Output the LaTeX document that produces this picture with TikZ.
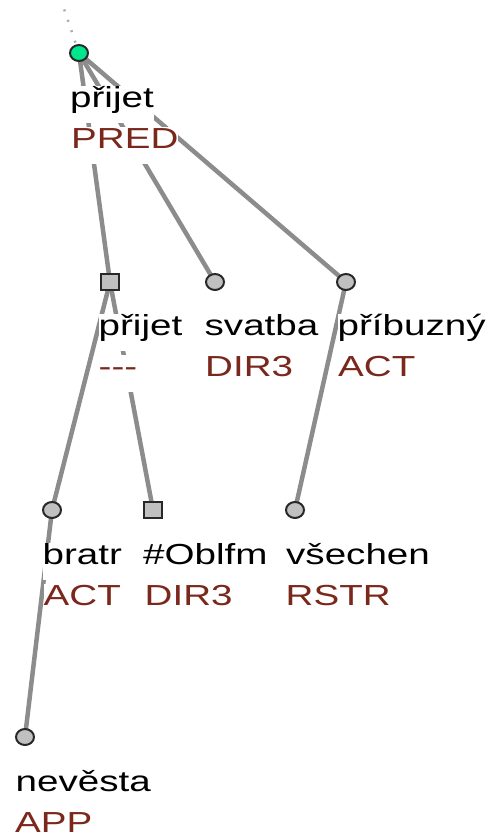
\documentclass[tikz,border=0pt]{standalone}
\usepackage{fontspec}
\setmainfont[FakeStretch=1.33]{Liberation Sans}
\usetikzlibrary{shapes.geometric}
\pgfdeclarelayer{edges}
\pgfdeclarelayer{labels}
\pgfsetlayers{edges,labels,main}
\definecolor{funcol}{RGB}{122,40,28}
\definecolor{edgecol}{RGB}{140,140,140}
\definecolor{nodefill}{RGB}{192,192,192}
\definecolor{rootfill}{RGB}{0,230,140}
\definecolor{nodeline}{RGB}{40,40,40}
\tikzset{
  tnode/.style={ellipse, draw=nodeline, line width=2pt, fill=nodefill, minimum width=18pt, minimum height=16pt, inner sep=0pt},
  snode/.style={rectangle, draw=nodeline, line width=2pt, fill=nodefill, minimum width=18pt, minimum height=16pt, inner sep=0pt},
  rnode/.style={tnode, fill=rootfill},
  lab/.style={anchor=base west, fill=white, inner sep=0pt, text height=21pt, text depth=16pt, font=\fontsize{29}{41}\selectfont},
  lemma/.style={lab, text=black},
  functor/.style={lab, text=funcol},
  edge/.style={draw=edgecol, line width=4.5pt},
  topedge/.style={draw=gray!65, line width=2.5pt, dash pattern=on 2pt off 9pt}
}
\begin{document}
\begin{tikzpicture}[x=1pt,y=-1pt]
\useasboundingbox (0,0) rectangle (490,839);
% tree nodes
\node[rnode] (root) at (79,53) {};
\node[snode] (n1) at (110,282) {};
\node[tnode] (n2) at (215,282) {};
\node[tnode] (n3) at (346,282) {};
\node[tnode] (n4) at (52,510) {};
\node[snode] (n5) at (153,510) {};
\node[tnode] (n6) at (295,510) {};
\node[tnode] (n7) at (25,737) {};
\coordinate (up) at (62,3);
% labels
\begin{pgfonlayer}{labels}
\node[lemma] (l0a) at (70,107) {přijet};
\node[functor] (l0b) at (71,148) {PRED};
\node[lemma] (l1a) at (98.5,335) {přijet};
\node[functor] (l1b) at (98.5,376) {-{}-{}-};
\node[lemma] (l2a) at (204.5,335) {svatba};
\node[functor] (l2b) at (205,376) {DIR3};
\node[lemma] (l3a) at (337.5,335) {příbuzný};
\node[functor] (l3b) at (338,376) {ACT};
\node[lemma] (l4a) at (42.5,564) {bratr};
\node[functor] (l4b) at (43.5,605) {ACT};
\node[lemma] (l5a) at (143,564) {\#Oblfm};
\node[functor] (l5b) at (144.5,605) {DIR3};
\node[lemma] (l6a) at (286,564) {všechen};
\node[functor] (l6b) at (285.5,605) {RSTR};
\node[lemma] (l7a) at (15.5,791) {nevěsta};
\node[functor] (l7b) at (15,832) {APP};
\end{pgfonlayer}
% edges
\begin{pgfonlayer}{edges}
\draw[topedge] (root.center) -- (up);
\draw[edge] (root.center) -- (n1.center);
\draw[edge] (root.center) -- (n2.center);
\draw[edge] (root.center) -- (n3.center);
\draw[edge] (n1.center) -- (n4.center);
\draw[edge] (n1.center) -- (n5.center);
\draw[edge] (n3.center) -- (n6.center);
\draw[edge] (n4.center) -- (n7.center);
\end{pgfonlayer}
\end{tikzpicture}
\end{document}
